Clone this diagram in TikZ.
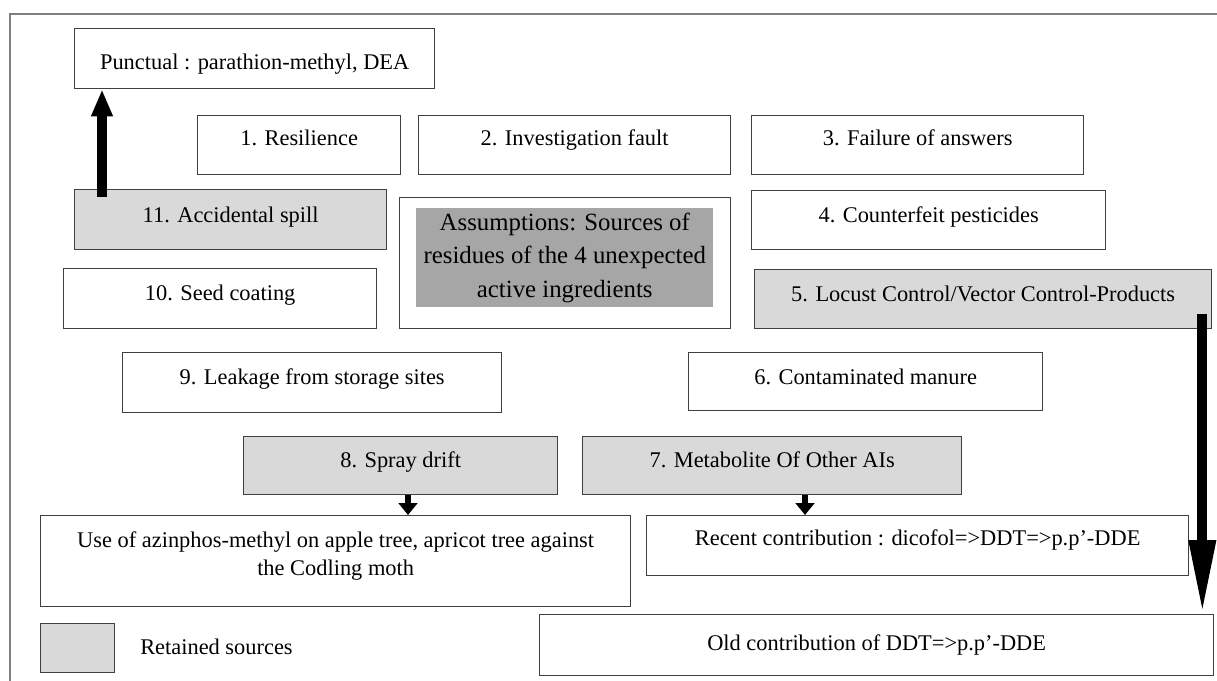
\documentclass[tikz,border=0pt]{standalone}
\usepackage{fontspec}
\setmainfont{Liberation Serif}
\usetikzlibrary{arrows.meta}
\definecolor{edge}{HTML}{404040}
\definecolor{retained}{HTML}{D9D9D9}
\definecolor{assumfill}{HTML}{A6A6A6}
\definecolor{framegray}{HTML}{808080}
\begin{document}
\begin{tikzpicture}[x=0.75pt,y=-0.75pt,
  box/.style={draw=edge, line width=1pt, anchor=north west, inner sep=0pt,
    font=\fontsize{16.8}{21}\selectfont},
  kept/.style={box, fill=retained},
  uparrow/.style={line width=7.5pt, -{Triangle[length=20.25pt, width=15pt]}},
  downarrow/.style={line width=7.5pt, -{Triangle[length=55.5pt, width=18.75pt]}},
  smallarrow/.style={line width=4.5pt, -{Triangle[length=9pt, width=14pt]}}]
\useasboundingbox (0,0) rectangle (1217,681);
\clip (0,0) rectangle (1217,681);
\draw[framegray, line width=1.5pt] (10,14) rectangle (1240,700);

\node[box, minimum width=270pt, text height=30.75pt, text depth=14.25pt] (punct) at (74,28) {Punctual : parathion-methyl, DEA};
\node[box, minimum width=152.25pt, text height=22.5pt, text depth=21.75pt] (res) at (197,115) {1. Resilience};
\node[box, minimum width=234pt, text height=22.5pt, text depth=21.75pt] (inv) at (418,115) {2. Investigation fault};
\node[box, minimum width=249pt, text height=22.5pt, text depth=21.75pt] (fail) at (751,115) {3. Failure of answers};
\node[kept, minimum width=234pt, text height=24.75pt, text depth=20.25pt] (spill) at (74,189) {11. Accidental spill};
\node[box, minimum width=265.5pt, text height=24pt, text depth=20.25pt] (count) at (751,190) {4. Counterfeit pesticides};
\node[box, minimum width=234.75pt, text height=24pt, text depth=21pt] (seed) at (63,268) {10. Seed coating};
\node[kept, minimum width=342.75pt, text height=24pt, text depth=20.25pt] (locust) at (754,269) {5. Locust Control/Vector Control-Products};
\node[box, minimum width=284.25pt, text height=24pt, text depth=21pt] (leak) at (122,352) {9. Leakage from storage sites};
\node[box, minimum width=265.5pt, text height=24pt, text depth=19.5pt] (manure) at (688,352) {6. Contaminated manure};
\node[kept, minimum width=235.5pt, text height=23.25pt, text depth=20.25pt] (spray) at (243,436) {8. Spray drift};
\node[kept, minimum width=284.25pt, text height=23.25pt, text depth=20.25pt] (metab) at (582,436) {7. Metabolite Of Other AIs};
\node[box, minimum width=442.5pt, text height=45pt, text depth=23.25pt] (use) at (40,515)
  {\begin{tabular}[b]{@{}c@{}}Use of azinphos-methyl on apple tree, apricot tree against\\the Codling moth\end{tabular}};
\node[box, minimum width=406.5pt, text height=22.5pt, text depth=22.5pt] (recent) at (646,515) {Recent contribution : dicofol=>DDT=>p.p'-DDE};
\node[box, minimum width=505.5pt, text height=27pt, text depth=18.75pt] (old) at (539,614) {Old contribution of DDT=>p.p'-DDE};

\node[box, minimum width=248.25pt, minimum height=98.25pt] (assumframe) at (399,197) {};
\node[anchor=north west, inner sep=0pt, fill=assumfill, minimum width=222.75pt,
  text height=66.75pt, text depth=7.5pt, font=\fontsize{18.6}{25.1}\selectfont] (assum) at (416,208)
  {\begin{tabular}[b]{@{}c@{}}Assumptions: Sources of\\residues of the 4 unexpected\\active ingredients\end{tabular}};

\node[kept, minimum width=55.5pt, minimum height=36.75pt] (legbox) at (40,623) {};
\node[anchor=base west, inner sep=0pt, font=\fontsize{16.8}{21}\selectfont] (legtext) at (140,654) {Retained sources};

\draw[uparrow] ([shift={(28,8)}]spill.north west) -- ([shift={(28,0)}]punct.south west);
\draw[downarrow] ([shift={(-10,45)}]locust.north east) -- ([shift={(-12,0)}]old.north east);
\draw[smallarrow] ([shift={(165,0)}]spray.south west) -- ([shift={(368,0)}]use.north west);
\draw[smallarrow] ([shift={(223,0)}]metab.south west) -- ([shift={(159,0)}]recent.north west);
\end{tikzpicture}
\end{document}
